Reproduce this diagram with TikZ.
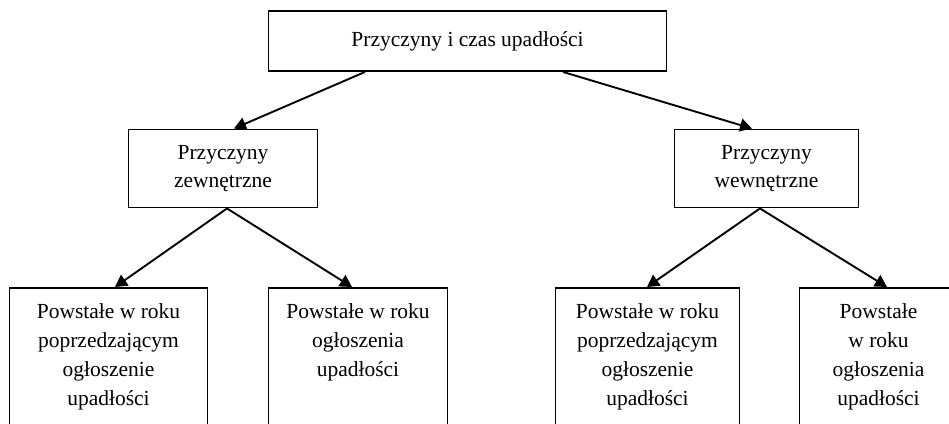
\documentclass[tikz,border=0pt]{standalone}
\usepackage{fontspec}
\setmainfont{Liberation Serif}
\usetikzlibrary{arrows.meta}
\begin{document}
\begin{tikzpicture}[x=1pt,y=-1pt,
  box/.style={draw, line width=1.9pt, inner sep=0pt},
  lbl/.style={font=\fontsize{21.5}{28.8}\selectfont, align=center, inner sep=0pt},
  link/.style={line width=1.9pt, -{Triangle[length=12pt,width=13pt]}}]
% page frame; the lower boxes run past the bottom edge
\clip (0,0) rectangle (949,423);
\fill[white] (0,0) rectangle (949,423);

% root
\node[box, lbl, minimum width=398pt, minimum height=60pt] (top) at (467.5,41)
  {Przyczyny i czas upadłości};

% second level
\node[box, lbl, minimum width=189pt, minimum height=78pt] (ml) at (223,168.5)
  {Przyczyny\\zewnętrzne};
\node[box, lbl, minimum width=184pt, minimum height=78pt] (mr) at (766.5,168.5)
  {Przyczyny\\wewnętrzne};

% third level: frames
\node[box, anchor=north, minimum width=198pt, minimum height=170pt] (b1) at (108.5,287) {};
\node[box, anchor=north, minimum width=179pt, minimum height=170pt] (b2) at (358,287) {};
\node[box, anchor=north, minimum width=184pt, minimum height=170pt] (b3) at (647.5,287) {};
\node[box, anchor=north, minimum width=150pt, minimum height=170pt] (b4) at (874.5,287) {};

% third level: texts
\node[lbl, anchor=north] (t1) at (108.5,303.5) {Powstałe w roku\\poprzedzającym\\ogłoszenie\\upadłości};
\node[lbl, anchor=north] (t2) at (358,303.5) {Powstałe w roku\\ogłoszenia\\upadłości};
\node[lbl, anchor=north] (t3) at (647.5,303.5) {Powstałe w roku\\poprzedzającym\\ogłoszenie\\upadłości};
\node[lbl, anchor=north] (t4) at (878.5,303.5) {Powstałe\\w roku\\ogłoszenia\\upadłości};

% connectors
\draw[link] ([xshift=-102.5pt]top.south) -- ([xshift=11pt]ml.north);
\draw[link] ([xshift=95.5pt]top.south) -- ([xshift=-14.5pt]mr.north);
\draw[link] ([xshift=4pt]ml.south) -- ([xshift=6.5pt]b1.north);
\draw[link] ([xshift=4pt]ml.south) -- ([xshift=-6pt]b2.north);
\draw[link] ([xshift=-6.5pt]mr.south) -- ([xshift=-0.5pt]b3.north);
\draw[link] ([xshift=-6.5pt]mr.south) -- ([xshift=12.5pt]b4.north);
\end{tikzpicture}
\end{document}
